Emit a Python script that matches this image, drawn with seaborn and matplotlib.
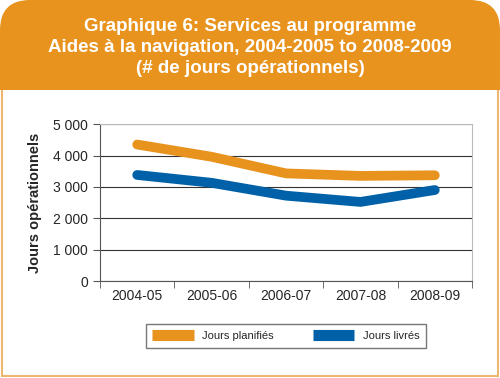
import pandas as pd
import seaborn as sns
import matplotlib.pyplot as plt
from matplotlib.patches import FancyBboxPatch, Rectangle
from matplotlib.ticker import FuncFormatter, FixedLocator

years = ["2004-05", "2005-06", "2006-07", "2007-08", "2008-09"]
planifies = [4350, 3960, 3430, 3350, 3370]
livres = [3380, 3130, 2720, 2520, 2900]
series_names = ["Jours planifiés", "Jours livrés"]

orange = "#E8931E"
blue = "#0061A8"

df = pd.DataFrame({"Année": years, series_names[0]: planifies, series_names[1]: livres})
df_long = df.melt(id_vars="Année", var_name="Série", value_name="Jours")

sns.set_style("white")
plt.rcParams["font.family"] = ["Liberation Sans", "DejaVu Sans"]

fig = plt.figure(figsize=(5, 3.78), dpi=100)
inch = fig.dpi_scale_trans

# outer frame, header band with rounded top corners
fig.patches.append(Rectangle((0.02, 0.02), 4.96, 2.9, transform=inch,
                             facecolor="white", edgecolor="#EDB770", lw=1.5, zorder=-3))
fig.patches.append(FancyBboxPatch((0.0, 2.88), 5.0, 0.90, boxstyle="round,pad=0,rounding_size=0.3",
                                  transform=inch, facecolor=orange, edgecolor="none", zorder=-1))
fig.patches.append(Rectangle((0.0, 2.88), 5.0, 0.4, transform=inch,
                             facecolor=orange, edgecolor="none", zorder=-1))
fig.text(0.5, 0.874, "Graphique 6: Services au programme\nAides à la navigation, 2004-2005 to 2008-2009\n(# de jours opérationnels)",
         ha="center", va="center", color="white", fontsize=13.5, fontweight="bold", linespacing=1.3)

ax = fig.add_axes([0.2, 0.2566, 0.744, 0.415])
sns.lineplot(data=df_long, x="Année", y="Jours", hue="Série", palette=[orange, blue],
             lw=7, ax=ax, legend=False, sort=False)

ax.set_xlim(-0.5, 4.5)
ax.set_ylim(0, 5000)
ax.set_yticks(range(0, 5001, 1000))
ax.yaxis.set_major_formatter(FuncFormatter(lambda v, p: f"{int(v):,}".replace(",", " ")))
ax.grid(axis="y", color="#333333", lw=0.8)
ax.set_axisbelow(True)
ax.xaxis.set_minor_locator(FixedLocator([i - 0.5 for i in range(6)]))
ax.tick_params(axis="x", which="major", length=0, labelsize=10, pad=6)
ax.tick_params(axis="x", which="minor", length=5, color="#555555", bottom=True)
ax.tick_params(axis="y", length=5, color="#555555", labelsize=10, left=True)
for side in ["left", "bottom"]:
    ax.spines[side].set_color("#555555")
for side in ["top", "right"]:
    ax.spines[side].set_color("#BBBBBB")
ax.set_xlabel("")
ax.set_ylabel("Jours opérationnels", fontsize=10.5, fontweight="bold", labelpad=8)

handles = [plt.Line2D([], [], color=c, lw=8, solid_capstyle="butt") for c in [orange, blue]]
fig.legend(handles, series_names, loc="center", bbox_to_anchor=(0.572, 0.111), ncol=2,
           frameon=True, fancybox=False, edgecolor="#555555", handlelength=3.7,
           columnspacing=3.5, borderpad=0.6, fontsize=8)

plt.savefig("out.png", dpi=100)
